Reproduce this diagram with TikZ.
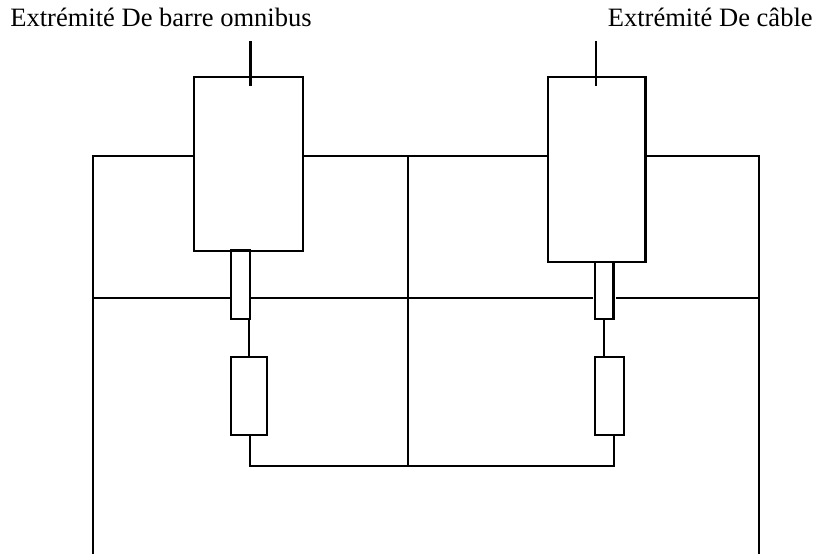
\documentclass[tikz,border=0pt]{standalone}
\usepackage{fontspec}
\setmainfont{Liberation Serif}
\usetikzlibrary{positioning}
\tikzset{
  block/.style={draw, line width=1.15pt, fill=white, inner sep=0pt, outer sep=0pt},
  wire/.style={line width=1.15pt},
  caption/.style={font=\fontsize{15.1}{18}\selectfont, inner sep=0pt}
}
\begin{document}
\begin{tikzpicture}[x=0.02cm, y=-0.02cm]
    \useasboundingbox (0,0) rectangle (814,554);

    % boxes
    \node[block, minimum width=2.17cm, minimum height=3.47cm] (barre) at (248.7,164) {};
    \node[block, minimum width=1.96cm, minimum height=3.70cm] (cable) at (596.5,169.5) {};
    \node[block, minimum width=0.38cm, minimum height=1.37cm] (tubeL) at (240.5,284.75) {};
    \node[block, minimum width=0.37cm, minimum height=1.14cm] (tubeR) at (604.25,290.5) {};
    \node[block, minimum width=0.72cm, minimum height=1.56cm] (resL) at (249,396) {};
    \node[block, minimum width=0.59cm, minimum height=1.56cm] (resR) at (609.7,396) {};

    % frame points
    \coordinate (nw) at (93,156);
    \coordinate (ne) at (759,156);
    \coordinate (sw) at (93,554);
    \coordinate (se) at (759,554);
    \coordinate (ml) at (93,298);
    \coordinate (mr) at (759,298);
    \coordinate (mid) at (408,156);
    \coordinate (busmid) at (408,466);
    \coordinate (busL) at (250,466);
    \coordinate (busR) at (613.7,466);
    \coordinate (leadL) at (250.5,41);
    \coordinate (leadR) at (596,41);

    % frame and rails
    \draw[wire] (sw) -- (nw) -- (barre.west |- nw);
    \draw[wire] (barre.east |- nw) -- (cable.west |- nw);
    \draw[wire] (cable.east |- ne) -- (ne) -- (se);
    \draw[wire] (ml) -- (tubeL.west |- ml);
    \draw[wire, shorten >=0.045cm] (tubeL.east |- ml) -- (tubeR.west |- ml);
    \draw[wire, shorten <=0.045cm] (tubeR.east |- mr) -- (mr);
    \draw[wire] (mid) -- (busmid);

    % branches
    \draw[wire] (tubeL.south -| resL.north) -- (resL.north);
    \draw[wire] (tubeR.south) -- (tubeR.south |- resR.north);
    \draw[wire] (resL.south -| busL) -- (busL) -- (busR) -- (resR.south -| busR);
    \draw[wire] (leadL) -- ++(0,45);
    \draw[wire] (leadR) -- ++(0,45);

    \node[caption, anchor=base west] (labelL) at (10,27) {Extrémité De barre omnibus};
    \node[caption, anchor=base west] (labelR) at (607.5,27) {Extrémité De câble};
\end{tikzpicture}
\end{document}
